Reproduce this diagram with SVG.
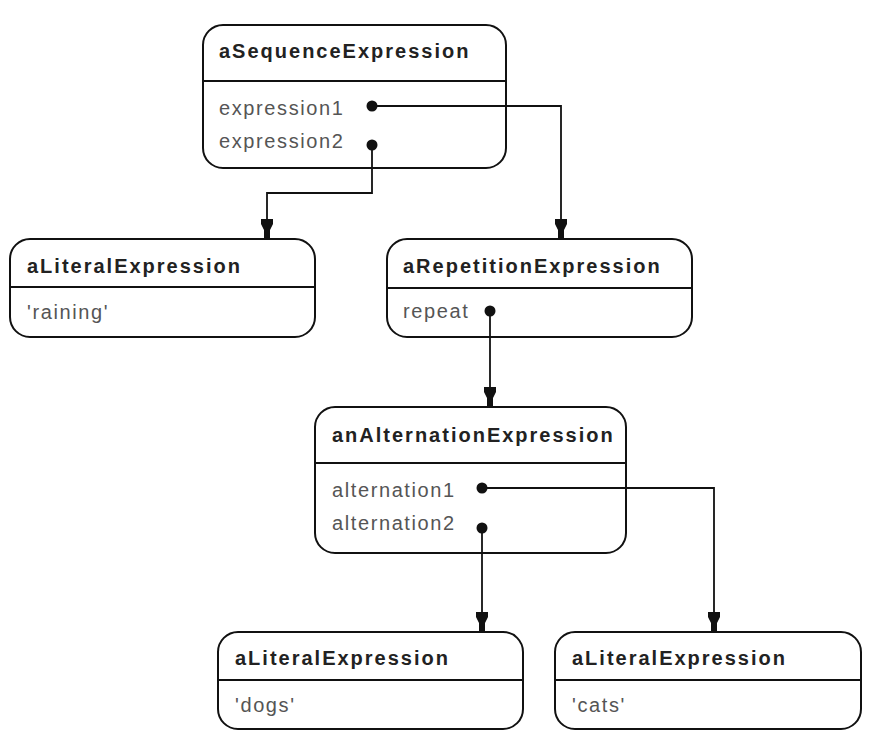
<svg xmlns="http://www.w3.org/2000/svg" width="872" height="754" viewBox="0 0 872 754">
<style>
.box{fill:#fff;stroke:#111;stroke-width:2}
.div{stroke:#111;stroke-width:2}
.t{font-family:"Liberation Sans",Arial,sans-serif;font-weight:bold;font-size:20px;letter-spacing:2px;fill:#222}
.v{font-family:"Liberation Sans",Arial,sans-serif;font-size:20px;letter-spacing:1.6px;fill:#555}
.c{fill:none;stroke:#111;stroke-width:1.8;marker-start:url(#dot);marker-end:url(#arr)}
</style>
<defs>
<marker id="dot" markerUnits="userSpaceOnUse" markerWidth="14" markerHeight="14" viewBox="-7 -7 14 14" refX="0" refY="0" orient="auto">
<circle cx="0" cy="0" r="5.5" fill="#111"/>
</marker>
<marker id="arr" markerUnits="userSpaceOnUse" markerWidth="24" markerHeight="16" viewBox="-22 -8 24 16" refX="0" refY="0" orient="auto">
<path d="M-20,-6 V6 H-15 L-9,3 H0 V-3 H-9 L-15,-6 Z" fill="#111"/>
</marker>
</defs>
<g id="aSequenceExpression">
<rect class="box" x="203" y="25" width="303" height="143" rx="20"/>
<line class="div" x1="203" y1="81" x2="506" y2="81"/>
<text class="t" x="219" y="58">aSequenceExpression</text>
<text class="v" x="219" y="115">expression1</text>
<text class="v" x="219" y="148">expression2</text>
</g>
<g id="aLiteralExpression1">
<rect class="box" x="10" y="239" width="305" height="98" rx="20"/>
<line class="div" x1="10" y1="287" x2="315" y2="287"/>
<text class="t" x="27" y="273">aLiteralExpression</text>
<text class="v" x="27" y="319">'raining'</text>
</g>
<g id="aRepetitionExpression">
<rect class="box" x="387" y="239" width="305" height="98" rx="20"/>
<line class="div" x1="387" y1="288" x2="692" y2="288"/>
<text class="t" x="403" y="273">aRepetitionExpression</text>
<text class="v" x="403" y="318">repeat</text>
</g>
<g id="anAlternationExpression">
<rect class="box" x="315" y="407" width="311" height="146" rx="20"/>
<line class="div" x1="315" y1="463" x2="626" y2="463"/>
<text class="t" x="332" y="442">anAlternationExpression</text>
<text class="v" x="332" y="497">alternation1</text>
<text class="v" x="332" y="530">alternation2</text>
</g>
<g id="aLiteralExpression2">
<rect class="box" x="218" y="632" width="305" height="97" rx="20"/>
<line class="div" x1="218" y1="680" x2="523" y2="680"/>
<text class="t" x="235" y="665">aLiteralExpression</text>
<text class="v" x="235" y="712">'dogs'</text>
</g>
<g id="aLiteralExpression3">
<rect class="box" x="555" y="632" width="306" height="97" rx="20"/>
<line class="div" x1="555" y1="680" x2="861" y2="680"/>
<text class="t" x="572" y="665">aLiteralExpression</text>
<text class="v" x="572" y="712">'cats'</text>
</g>
<g id="connectors">
<path class="c" d="M372,106 H561 V239"/>
<path class="c" d="M372,145 V193 H267 V239"/>
<path class="c" d="M490,311 V407"/>
<path class="c" d="M482,488 H714 V632"/>
<path class="c" d="M482,528 V632"/>
</g>
</svg>
